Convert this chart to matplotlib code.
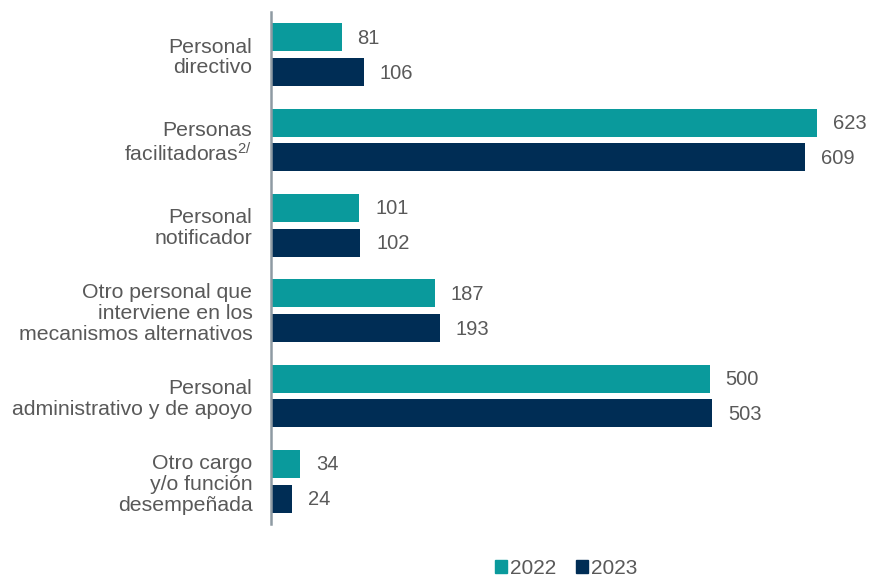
import matplotlib
matplotlib.use("Agg")
import matplotlib.pyplot as plt
from matplotlib.patches import Patch
import numpy as np

plt.rcParams['font.family'] = ['Liberation Sans', 'DejaVu Sans']
plt.rcParams['mathtext.fontset'] = 'custom'
plt.rcParams['mathtext.rm'] = 'Liberation Sans'
plt.rcParams['mathtext.it'] = 'Liberation Sans'

categories = [
    "Personal\ndirectivo",
    "Personas\nfacilitadoras$^{2/}$",
    "Personal\nnotificador",
    "Otro personal que\ninterviene en los\nmecanismos alternativos",
    "Personal\nadministrativo y de apoyo",
    "Otro cargo\ny/o función\ndesempeñada",
]
series_2022 = [81, 623, 101, 187, 500, 34]
series_2023 = [106, 609, 102, 193, 503, 24]
years = ["2022", "2023"]

teal = "#0A9A9C"
navy = "#002D55"
text_gray = "#595959"

W, H = 869, 577
fig = plt.figure(figsize=(W / 100, H / 100), dpi=100)
ax = fig.add_axes([270.5 / W, (H - 524) / H, (W - 270.5) / W, 512 / H])

y = np.arange(len(categories))
h = 0.328
off = 0.205
b1 = ax.barh(y - off, series_2022, height=h, color=teal)
b2 = ax.barh(y + off, series_2023, height=h, color=navy)

for bars, vals in ((b1, series_2022), (b2, series_2023)):
    for rect, v in zip(bars, vals):
        ax.annotate(f"{v}", (v, rect.get_y() + rect.get_height() / 2),
                    xytext=(16, -1), textcoords="offset pixels",
                    ha="left", va="center", fontsize=14.5, color=text_gray)

ax.set_xlim(0, (W - 270.5) / 0.878)
ax.set_ylim(len(categories) - 0.5, -0.5)
ax.set_yticks(y)
ax.set_yticklabels(categories, fontsize=15.3, color=text_gray, ha="right",
                   multialignment="right", linespacing=1.12)
ax.tick_params(axis="y", length=0, pad=13)
ax.set_xticks([])
for s in ("top", "right", "bottom"):
    ax.spines[s].set_visible(False)
ax.spines["left"].set_color("#8E9AA3")
ax.spines["left"].set_linewidth(1.8)

handles = [Patch(color=teal), Patch(color=navy)]
fig.legend(handles, years, loc="center", bbox_to_anchor=(566 / W, 1 - 568 / H),
           ncol=2, frameon=False, fontsize=15, labelcolor=text_gray,
           handlelength=0.6, handleheight=0.6, handletextpad=0.12,
           columnspacing=0.95)

fig.savefig("out.png", dpi=100)
